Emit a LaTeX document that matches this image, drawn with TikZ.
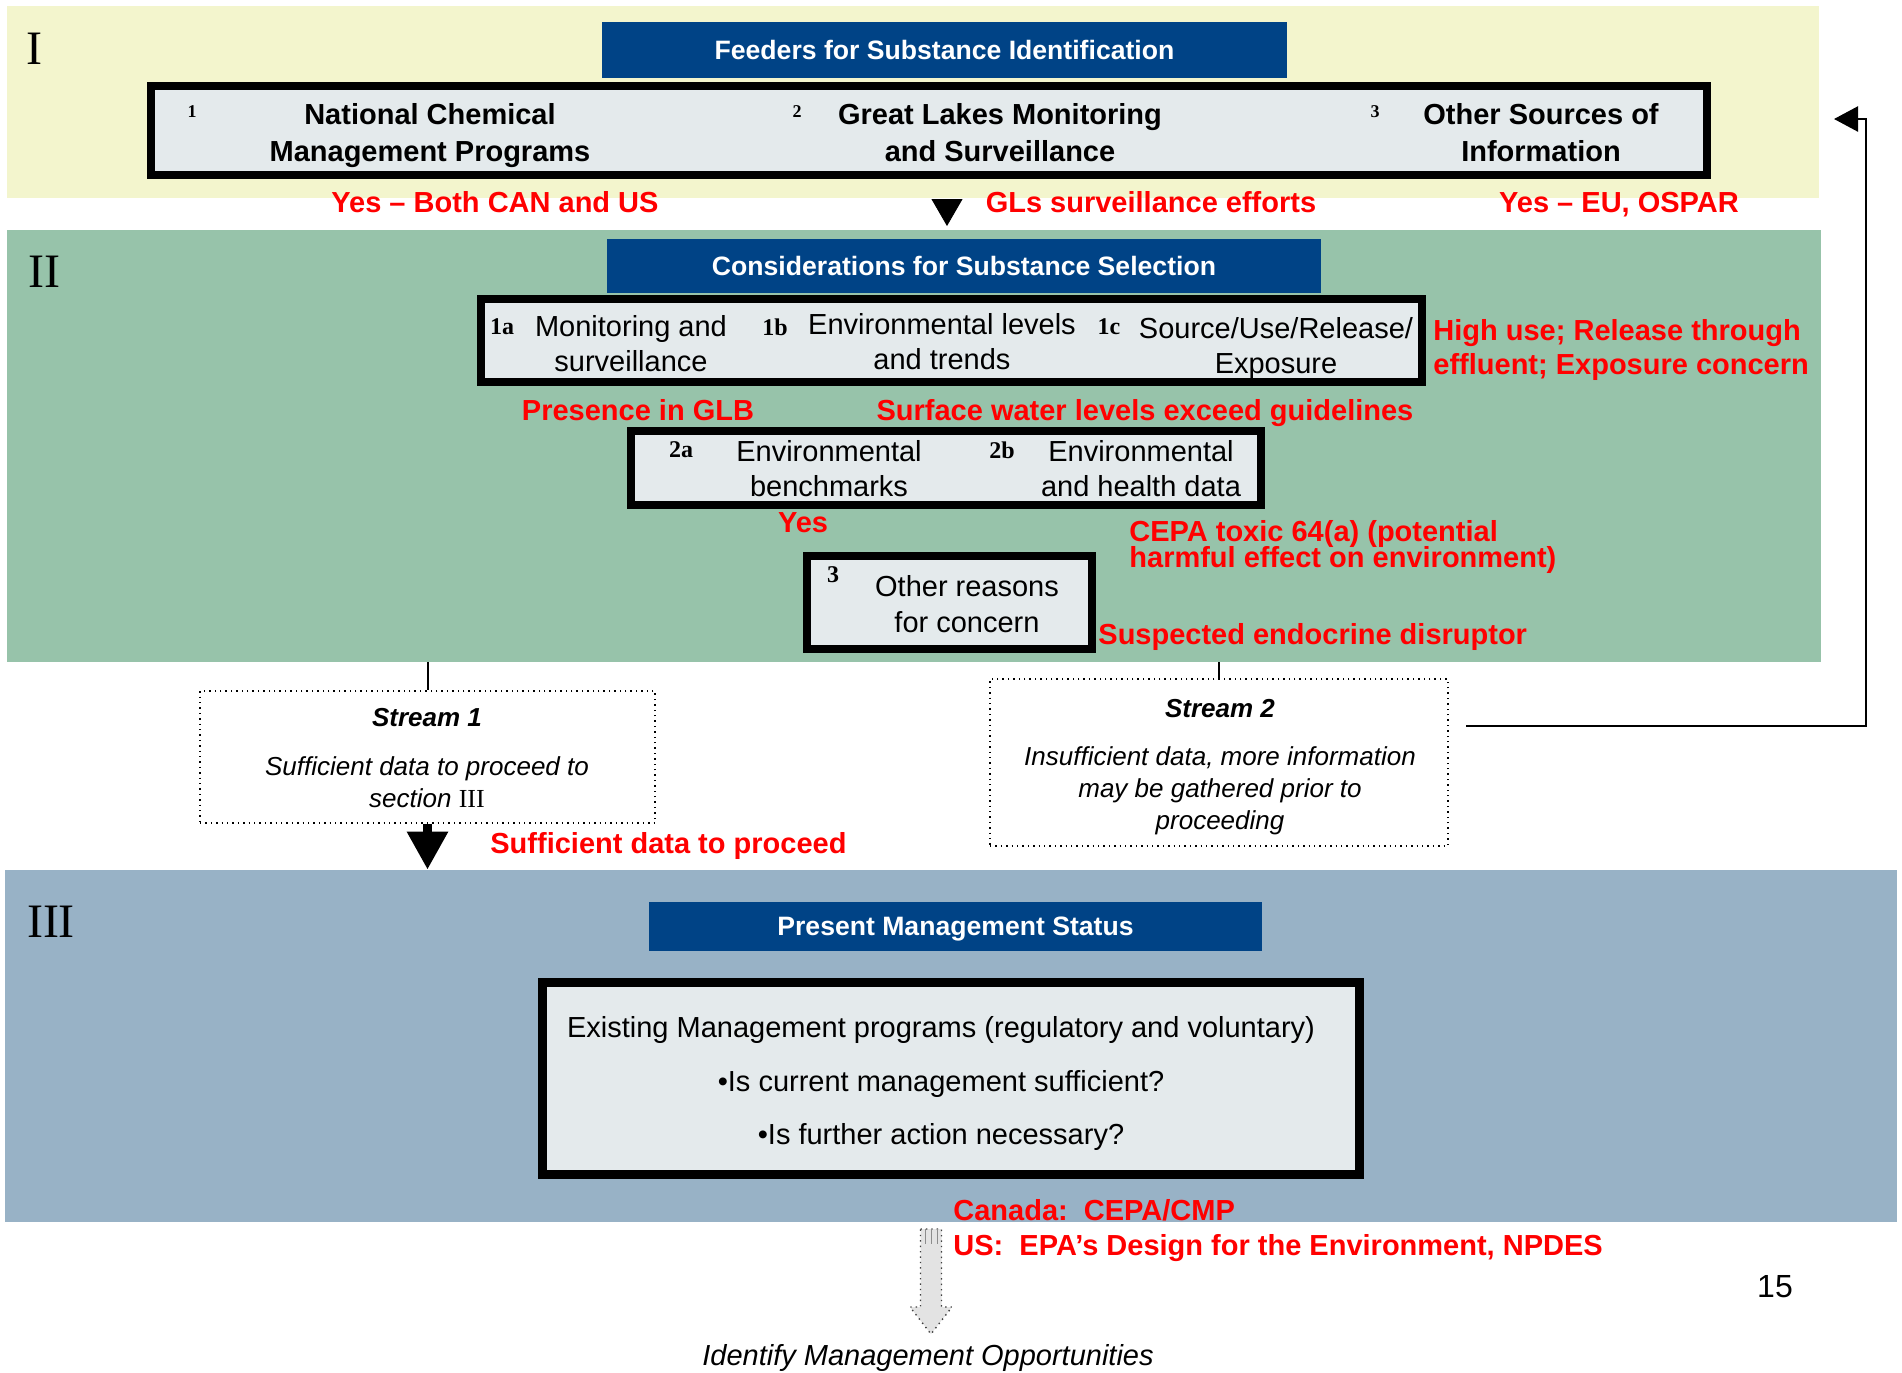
\documentclass[tikz,border=0pt]{standalone}
\usepackage{fontspec}
\setmainfont{Liberation Sans}
\newfontfamily\romanfont{Liberation Serif}
\usetikzlibrary{arrows.meta,fit,patterns}
\lineskiplimit=-20pt

\definecolor{bandyellow}{RGB}{243,245,205}
\definecolor{bandgreen}{RGB}{151,195,170}
\definecolor{bandblue}{RGB}{152,178,198}
\definecolor{hdrblue}{RGB}{0,67,134}
\definecolor{boxgray}{RGB}{228,234,236}
\definecolor{notered}{RGB}{255,0,0}

\tikzset{
  band/.style={inner sep=0pt, draw=none},
  hdr/.style={fill=hdrblue, inner sep=0pt},
  strutted/.style={inner sep=0pt, execute at begin node=\strut, execute at end node=\strut},
  hdrtxt/.style={strutted, text=white, yshift=-1.5pt,
      font=\bfseries\fontsize{13.3}{16}\selectfont},
  heavybox/.style={draw=black, line width=4pt, fill=boxgray, inner sep=0pt},
  streambox/.style={draw=black, dotted, line width=0.7pt, inner sep=0pt},
  feedtxt/.style={strutted, align=center, font=\bfseries\fontsize{14.5}{18.5}\selectfont},
  seltxt/.style={strutted, align=center, font=\fontsize{14.5}{17.5}\selectfont},
  itemno/.style={inner sep=0pt, font=\romanfont\bfseries\fontsize{12}{14}\selectfont},
  note/.style={strutted, text=notered, align=left, font=\bfseries\fontsize{14.5}{17}\selectfont},
  roman/.style={font=\romanfont\fontsize{24}{24}\selectfont},
  streamhd/.style={strutted, font=\bfseries\itshape\fontsize{13}{15.5}\selectfont},
  streamtxt/.style={strutted, align=center, font=\itshape\fontsize{13}{16.1}\selectfont},
  link/.style={line width=1pt}
}
\def\pxunit{0.5pt}

\begin{document}
\begin{tikzpicture}[x=\pxunit, y=-\pxunit]
  \useasboundingbox (0,0) rectangle (1902,1372);

  % the three sections
  \foreach \num/\xl/\yt/\xr/\yb/\col/\rn/\rx/\ry in {
      1/7/6/1819/198/bandyellow/I/34/49,
      2/7/230/1821/662/bandgreen/II/44/272,
      3/5/870/1897/1222/bandblue/III/51/922} {
      \node[band, fill=\col, fit={(\xl,\yt) (\xr,\yb)}] (band\num) {};
      \node[roman] (sec\num) at (\rx,\ry) {\rn};
    }

  \node[hdr, fit={(602,22) (1287,78)}] (feedhdr) {};
  \node[hdrtxt] (feedhdrtxt) at (feedhdr.center) {Feeders for Substance Identification};
  \node[hdr, fit={(607,239) (1321,293)}] (selhdr) {};
  \node[hdrtxt] (selhdrtxt) at (selhdr.center) {Considerations for Substance Selection};
  \node[hdr, fit={(649,902) (1262,951)}] (mgmthdr) {};
  \node[hdrtxt] (mgmthdrtxt) at (mgmthdr.center) {Present Management Status};

  % section I
  \node[heavybox, fit={(151,86) (1707,175)}] (feedbox) {};
  \foreach \id/\nx/\tx/\txt in {
      1/192/430/{National Chemical\\Management Programs},
      2/797/1000/{Great Lakes Monitoring\\and Surveillance},
      3/1375/1541/{Other Sources of\\Information}} {
      \node[itemno, font=\romanfont\bfseries\fontsize{9}{11}\selectfont] (feedno\id) at (\nx,112) {\id};
      \node[feedtxt] (feed\id) at (\tx,138) {\txt};
    }
  \node[note] (n_both) at (495,206) {Yes – Both CAN and US};
  \node[note] (n_gls) at (1151,206) {GLs surveillance efforts};
  \node[note] (n_eu) at (1619,206) {Yes – EU, OSPAR};
  \coordinate (tri_top) at (947,199);
  \coordinate (tri_tip) at (947,226);
  \draw[line width=0.4pt, -{Triangle[length=13.5pt,width=15.5pt]}] (tri_top) -- (tri_tip);

  % section II
  \node[heavybox, fit={(481,299) (1422,382)}] (selbox) {};
  \foreach \id/\nx/\tx/\ty/\txt in {
      1a/502/631/349/{Monitoring and\\surveillance},
      1b/775/942/347/{Environmental levels\\and trends},
      1c/1109/1276/351/{Source/Use/Release/\\Exposure}} {
      \node[itemno] (selno\id) at (\nx,327) {\id};
      \node[seltxt] (sel\id) at (\tx,\ty) {\txt};
    }
  \node[note, anchor=west] (n_use) at (1433,352) {High use; Release through\\effluent; Exposure concern};
  \node[note] (n_glb) at (638,414) {Presence in GLB};
  \node[note] (n_surf) at (1145,414) {Surface water levels exceed guidelines};

  \node[heavybox, fit={(631,431) (1261,505)}] (databox) {};
  \foreach \id/\nx/\tx/\txt in {
      2a/681/829/{Environmental\\benchmarks},
      2b/1002/1141/{Environmental\\and health data}} {
      \node[itemno] (datano\id) at (\nx,450) {\id};
      \node[seltxt] (data\id) at (\tx,474) {\txt};
    }
  \node[note] (n_yes) at (803,526) {Yes};
  \node[note, anchor=west, font=\bfseries\fontsize{14.5}{13.3}\selectfont] (n_cepa) at (1129,548)
    {CEPA toxic 64(a) (potential\\harmful effect on environment)};

  \node[heavybox, fit={(807,556) (1092,649)}] (otherbox) {};
  \node[itemno] (otherno) at (833,575) {3};
  \node[seltxt, font=\fontsize{14.5}{18}\selectfont] (other) at (967,609) {Other reasons\\for concern};
  \node[note, anchor=west] (n_endo) at (1098,638) {Suspected endocrine disruptor};

  % streams
  \node[streambox, fit={(200,691) (655,823)}] (stream1) {};
  \node[streamhd] (stream1hd) at (427,720) {Stream 1};
  \node[streamtxt] (stream1txt) at (427,787) {Sufficient data to proceed to\\section {\upshape\romanfont III}};
  \node[streambox, fit={(990,679) (1448,846)}] (stream2) {};
  \node[streamhd] (stream2hd) at (1220,711) {Stream 2};
  \node[streamtxt] (stream2txt) at (1220,793)
    {Insufficient data, more information\\may be gathered prior to\\proceeding};

  \draw[link] (band2.south -| stream1.north) -- (stream1.north);
  \draw[link] (band2.south -| stream2.north) -- (stream2.north);
  \draw[line width=4.5pt, -{Triangle[length=19pt,width=19.5pt]}] (stream1.south) -- (stream1.south |- band3.north);
  \node[note, anchor=west] (n_suff) at (490,847) {Sufficient data to proceed};

  \coordinate (fb_start) at (1466,726);
  \coordinate (fb_turn) at (1866,119);
  \coordinate (fb_tip) at (1834,119);
  \draw[line width=1.2pt, -{Triangle[length=12pt,width=12.5pt]}] (fb_start) -| (fb_turn) -- (fb_tip);

  % section III
  \node[heavybox, line width=4.5pt, fit={(542,982) (1359,1174)}] (mgmtbox) {};
  \node[strutted, align=center, font=\fontsize{14.5}{26.75}\selectfont] (mgmt) at (941,1089)
    {Existing Management programs (regulatory and voluntary)\\•Is current management sufficient?\\•Is further action necessary?};
  \node[note, anchor=west] (n_canada) at (953,1214) {Canada:\ \ CEPA/CMP};
  \node[note, anchor=west] (n_us) at (953,1249) {US:\ \ EPA’s Design for the Environment, NPDES};

  \coordinate (opp_top) at (931,1229);
  \filldraw[fill=gray!22, draw=black!75, dotted, line width=0.7pt]
    (opp_top) ++(-10.5,0) -- ++(21,0) -- ++(0,78) -- ++(10.5,0) -- ++(-21,27)
    -- ++(-21,-27) -- ++(10.5,0) -- cycle;
  \fill[pattern=vertical lines, pattern color=black!45] (opp_top) ++(-10.5,0) rectangle ++(21,14);
  \node[strutted, font=\itshape\fontsize{14.5}{17}\selectfont] (opps) at (928,1359) {Identify Management Opportunities};

  \node[font=\fontsize{16}{18}\selectfont] (pageno) at (1775,1287) {15};
\end{tikzpicture}
\end{document}
